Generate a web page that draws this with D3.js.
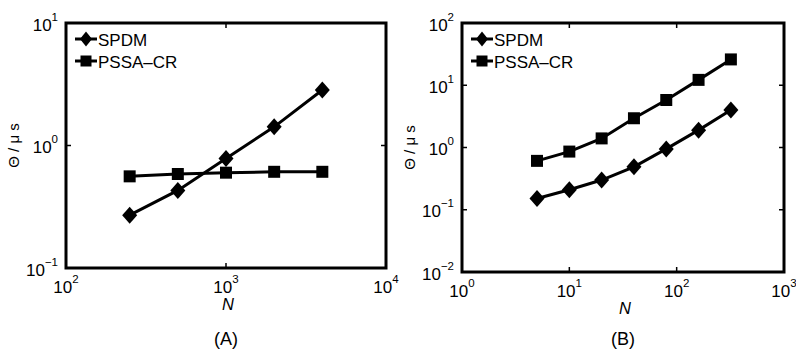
<!DOCTYPE html>
<html lang="en">
<head>
<meta charset="UTF-8">
<title>SPDM vs PSSA-CR</title>
<script src="https://cdn.jsdelivr.net/npm/d3@7"></script>
<style>
  body { margin: 0; background: #fff; }
  svg { display: block; font-family: "Liberation Sans", Arial, Helvetica, sans-serif; }
</style>
</head>
<body>
<svg width="796" height="351"></svg>
<script>
// panel A
var nA = [250, 500, 1000, 2000, 4000];
var spdmA = [0.27, 0.43, 0.785, 1.42, 2.84];
var pssaA = [0.56, 0.585, 0.60, 0.61, 0.61];
var xTicksA = [2, 3, 4];     // exponents
var yTicksA = [-1, 0, 1];

// panel B
var nB = [5, 10, 20, 40, 80, 160, 320];
var spdmB = [0.152, 0.21, 0.30, 0.49, 0.95, 1.9, 4.0];
var pssaB = [0.61, 0.86, 1.4, 2.95, 5.8, 12.2, 26];
var xTicksB = [0, 1, 2, 3];
var yTicksB = [-2, -1, 0, 1, 2];

var seriesNames = ["SPDM", "PSSA\u2013CR"];

var svg = d3.select("svg");

function supLabel(sel, exp) {
  sel.append("tspan").text("10");
  sel.append("tspan")
    .attr("dy", -10)
    .attr("font-size", 11.5)
    .text(exp < 0 ? "\u2212" + (-exp) : exp);
}

// diamond & square markers
function diamond(w, h) {
  return "M0," + (-h) + "L" + w + ",0L0," + h + "L" + (-w) + ",0Z";
}
function square(s) {
  return "M" + (-s) + "," + (-s) + "h" + (2 * s) + "v" + (2 * s) + "h" + (-2 * s) + "Z";
}

function drawPanel(p) {
  var x = d3.scaleLog().domain([Math.pow(10, p.xt[0]), Math.pow(10, p.xt[p.xt.length - 1])]).range([p.left, p.right]);
  var y = d3.scaleLog().domain([Math.pow(10, p.yt[0]), Math.pow(10, p.yt[p.yt.length - 1])]).range([p.bottom, p.top]);
  var g = svg.append("g");

  // ticks (inward, all four sides)
  var tl = 5;
  p.xt.forEach(function(e) {
    var px = x(Math.pow(10, e));
    g.append("line").attr("x1", px).attr("x2", px).attr("y1", p.bottom).attr("y2", p.bottom - tl)
      .attr("stroke", "#000").attr("stroke-width", 1.5);
    g.append("line").attr("x1", px).attr("x2", px).attr("y1", p.top).attr("y2", p.top + tl)
      .attr("stroke", "#000").attr("stroke-width", 1.5);
    var t = g.append("text").attr("x", px).attr("y", p.bottom + 25)
      .attr("text-anchor", "middle").attr("font-size", 17);
    supLabel(t, e);
  });
  p.yt.forEach(function(e) {
    var py = y(Math.pow(10, e));
    g.append("line").attr("x1", p.left).attr("x2", p.left + tl).attr("y1", py).attr("y2", py)
      .attr("stroke", "#000").attr("stroke-width", 1.5);
    g.append("line").attr("x1", p.right).attr("x2", p.right - tl).attr("y1", py).attr("y2", py)
      .attr("stroke", "#000").attr("stroke-width", 1.5);
    var t = g.append("text").attr("x", p.left - 8).attr("y", py + 7.5)
      .attr("text-anchor", "end").attr("font-size", 17);
    supLabel(t, e);
  });

  // frame
  g.append("rect").attr("x", p.left).attr("y", p.top)
    .attr("width", p.right - p.left).attr("height", p.bottom - p.top)
    .attr("fill", "none").attr("stroke", "#000").attr("stroke-width", 3);

  var line = d3.line().x(function(d) { return x(d[0]); }).y(function(d) { return y(d[1]); });
  var spdm = p.n.map(function(v, i) { return [v, p.spdm[i]]; });
  var pssa = p.n.map(function(v, i) { return [v, p.pssa[i]]; });

  g.append("path").datum(pssa).attr("d", line).attr("fill", "none").attr("stroke", "#000").attr("stroke-width", 3);
  g.append("path").datum(spdm).attr("d", line).attr("fill", "none").attr("stroke", "#000").attr("stroke-width", 3);

  g.selectAll(".sq").data(pssa).enter().append("path")
    .attr("d", square(6))
    .attr("transform", function(d) { return "translate(" + x(d[0]) + "," + y(d[1]) + ")"; });
  g.selectAll(".dm").data(spdm).enter().append("path")
    .attr("d", diamond(7.5, 8.5))
    .attr("transform", function(d) { return "translate(" + x(d[0]) + "," + y(d[1]) + ")"; });

  // legend
  var lx = p.left + 20, ly = [p.top + 16, p.top + 38];
  seriesNames.forEach(function(name, i) {
    g.append("line").attr("x1", lx - 11).attr("x2", lx + 11).attr("y1", ly[i]).attr("y2", ly[i])
      .attr("stroke", "#000").attr("stroke-width", 3);
    g.append("path").attr("d", i === 0 ? diamond(6, 7.5) : square(5.5))
      .attr("transform", "translate(" + lx + "," + ly[i] + ")");
    g.append("text").attr("x", lx + 12).attr("y", ly[i] + 6.5).attr("font-size", 17).text(name);
  });

  // axis labels
  var cx = (p.left + p.right) / 2;
  g.append("text").attr("x", cx + 2).attr("y", p.bottom + 42)
    .attr("text-anchor", "middle").attr("font-size", 16.5).attr("font-style", "italic").text("N");
  g.append("text")
    .attr("transform", "translate(" + (p.left - 47) + "," + ((p.top + p.bottom) / 2) + ") rotate(-90)")
    .attr("text-anchor", "middle").attr("font-size", 15).text("\u0398 / \u03bc s");
  g.append("text").attr("x", cx).attr("y", 345)
    .attr("text-anchor", "middle").attr("font-size", 18).text(p.tag);
}

drawPanel({ left: 66, right: 386, top: 23, bottom: 268, n: nA, spdm: spdmA, pssa: pssaA,
  xt: xTicksA, yt: yTicksA, tag: "(A)" });
drawPanel({ left: 462, right: 784, top: 23, bottom: 272, n: nB, spdm: spdmB, pssa: pssaB,
  xt: xTicksB, yt: yTicksB, tag: "(B)" });
</script>
</body>
</html>
